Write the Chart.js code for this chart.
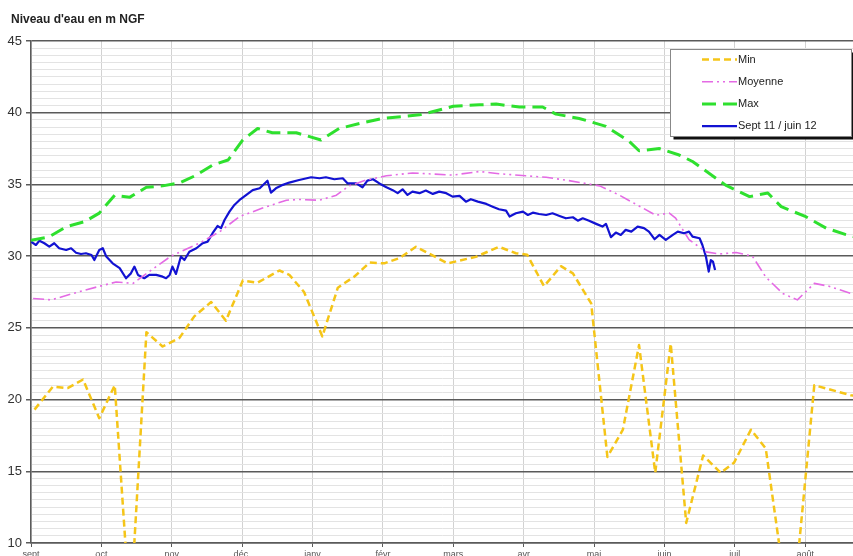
<!DOCTYPE html>
<html>
<head>
<meta charset="utf-8">
<script src="https://cdn.jsdelivr.net/npm/chart.js@4/dist/chart.umd.min.js"></script>
<style>
  html, body { margin: 0; padding: 0; background: #fff; }
  canvas { display: block; }
</style>
</head>
<body>
<canvas id="niveau" width="853" height="556"></canvas>
<script>
// Axe des x : mois depuis le 1er septembre (0 = sept, 1 = oct, ...)
const mois = ['sept', 'oct', 'nov', 'déc.', 'janv', 'févr', 'mars', 'avr', 'mai', 'juin', 'juil', 'août'];

// [mois, niveau en m NGF]
const ptsMin = [
    [0.05, 19.3], [0.31, 20.9], [0.52, 20.8], [0.74, 21.4], [0.97, 18.7], [1.19, 21.0], [1.41, 5.0],
    [1.64, 24.7], [1.87, 23.7], [2.11, 24.3], [2.32, 25.8], [2.56, 26.8], [2.77, 25.5], [3.01, 28.3],
    [3.22, 28.15], [3.53, 29.0], [3.67, 28.7], [3.88, 27.5], [4.14, 24.4], [4.36, 27.8], [4.60, 28.6],
    [4.81, 29.55], [5.02, 29.5], [5.23, 29.85], [5.47, 30.65], [5.92, 29.5], [6.32, 29.95], [6.65, 30.65],
    [6.89, 30.2], [7.05, 30.1], [7.29, 27.9], [7.53, 29.3], [7.70, 28.8], [7.96, 26.7], [8.19, 16.0],
    [8.41, 17.9], [8.64, 23.8], [8.87, 14.9], [9.09, 23.9], [9.31, 11.4], [9.55, 16.1], [9.80, 14.9],
    [9.99, 15.6], [10.23, 17.9], [10.44, 16.6], [10.80, 4.0], [11.13, 21.0], [11.65, 20.3], [11.90, 20.2]
];

const ptsMoyenne = [
    [0.03, 27.05], [0.29, 26.95], [0.74, 27.6], [1.21, 28.2], [1.45, 28.1], [1.73, 29.1], [1.99, 30.0],
    [2.39, 30.9], [2.68, 31.7], [2.96, 32.75], [3.29, 33.35], [3.63, 33.9], [3.81, 33.95], [4.10, 33.9],
    [4.34, 34.25], [4.52, 34.9], [4.76, 35.3], [5.05, 35.6], [5.42, 35.8], [5.99, 35.65], [6.37, 35.9],
    [6.65, 35.75], [7.03, 35.6], [7.32, 35.5], [7.60, 35.3], [8.08, 34.9], [8.36, 34.25], [8.64, 33.5],
    [8.88, 32.85], [9.07, 33.0], [9.16, 32.65], [9.35, 31.15], [9.59, 30.3], [9.78, 30.15], [10.02, 30.25],
    [10.25, 30.0], [10.44, 28.55], [10.68, 27.4], [10.89, 26.95], [11.13, 28.1], [11.34, 27.9], [11.65, 27.4],
    [11.90, 27.0]
];

const ptsMax = [
    [0.00, 31.1], [0.26, 31.35], [0.50, 32.05], [0.76, 32.4], [0.97, 33.0], [1.19, 34.25], [1.40, 34.1],
    [1.64, 34.8], [1.87, 34.9], [2.11, 35.1], [2.35, 35.65], [2.58, 36.35], [2.80, 36.7], [3.01, 38.1],
    [3.22, 38.9], [3.43, 38.6], [3.77, 38.6], [4.12, 38.1], [4.38, 38.9], [4.67, 39.25], [5.00, 39.6],
    [5.52, 39.85], [5.73, 40.1], [6.00, 40.45], [6.37, 40.55], [6.61, 40.6], [6.94, 40.4], [7.27, 40.4],
    [7.46, 39.9], [7.79, 39.6], [8.17, 39.05], [8.50, 38.0], [8.64, 37.35], [8.93, 37.5], [9.21, 37.05],
    [9.40, 36.6], [9.87, 34.95], [10.21, 34.15], [10.47, 34.4], [10.66, 33.45], [11.01, 32.75], [11.30, 31.95],
    [11.58, 31.5], [11.90, 31.1]
];

const ptsSaison = [
    [0.00, 31.0], [0.07, 30.78], [0.12, 31.08], [0.19, 30.9], [0.26, 30.66], [0.33, 30.9], [0.40, 30.55],
    [0.50, 30.43], [0.57, 30.55], [0.64, 30.24], [0.71, 30.15], [0.78, 30.2], [0.86, 30.08], [0.90, 29.73],
    [0.97, 30.43], [1.02, 30.55], [1.07, 29.97], [1.16, 29.5], [1.26, 29.16], [1.35, 28.46], [1.42, 28.8],
    [1.47, 29.27], [1.52, 28.69], [1.61, 28.46], [1.68, 28.69], [1.78, 28.69], [1.87, 28.57], [1.92, 28.46],
    [1.97, 28.69], [2.01, 29.27], [2.06, 28.76], [2.13, 29.97], [2.18, 29.73], [2.25, 30.31], [2.35, 30.55],
    [2.44, 30.9], [2.51, 31.01], [2.58, 31.6], [2.65, 32.1], [2.70, 31.95], [2.75, 32.52], [2.82, 33.1],
    [2.89, 33.57], [2.96, 33.9], [3.06, 34.27], [3.15, 34.6], [3.25, 34.73], [3.32, 35.07], [3.36, 35.26],
    [3.41, 34.43], [3.48, 34.73], [3.58, 34.97], [3.67, 35.13], [3.81, 35.31], [3.98, 35.5], [4.10, 35.43],
    [4.19, 35.5], [4.31, 35.36], [4.43, 35.43], [4.50, 35.07], [4.62, 35.07], [4.71, 34.8], [4.78, 35.27],
    [4.86, 35.36], [4.95, 35.07], [5.05, 34.8], [5.14, 34.6], [5.21, 34.39], [5.28, 34.66], [5.35, 34.27],
    [5.42, 34.5], [5.52, 34.39], [5.61, 34.57], [5.71, 34.34], [5.80, 34.5], [5.90, 34.39], [5.99, 34.15],
    [6.09, 34.2], [6.18, 33.8], [6.25, 33.97], [6.35, 33.8], [6.47, 33.64], [6.56, 33.45], [6.65, 33.27],
    [6.75, 33.17], [6.80, 32.76], [6.89, 32.99], [6.99, 33.1], [7.06, 32.87], [7.13, 33.03], [7.22, 32.94],
    [7.32, 32.87], [7.41, 32.99], [7.51, 32.8], [7.60, 32.64], [7.70, 32.71], [7.77, 32.47], [7.84, 32.64],
    [7.93, 32.47], [8.03, 32.25], [8.12, 32.06], [8.17, 32.25], [8.24, 31.32], [8.31, 31.64], [8.38, 31.48],
    [8.45, 31.83], [8.53, 31.71], [8.62, 32.06], [8.71, 31.95], [8.78, 31.71], [8.86, 31.18], [8.93, 31.48],
    [9.02, 31.13], [9.12, 31.48], [9.19, 31.71], [9.28, 31.6], [9.35, 31.71], [9.40, 31.36], [9.50, 31.25],
    [9.54, 30.78], [9.59, 29.97], [9.63, 28.92], [9.66, 29.73], [9.69, 29.62], [9.72, 29.04]
];

const TITRE = "Niveau d'eau en m NGF";

// ── Couleurs ──
const JAUNE = '#F5C518';
const ROSE  = '#E46AE4';
const VERT  = '#2EE02E';
const BLEU  = '#1212D2';
const MAJEUR = '#5a5a5a';

const versXY = (pts) => pts.map(([x, y]) => ({ x, y }));

Chart.defaults.font.family = "'Liberation Sans', Arial, sans-serif";
Chart.defaults.color = '#333';

// Titre en haut à gauche
const titrePlugin = {
    id: 'titre',
    afterDraw(chart) {
        const ctx = chart.ctx;
        ctx.save();
        ctx.font = "bold 12px 'Liberation Sans', Arial, sans-serif";
        ctx.fillStyle = '#222';
        ctx.textBaseline = 'alphabetic';
        ctx.fillText(TITRE, 11, 23);
        ctx.restore();
    }
};

// Légende encadrée façon Excel (ombre noire)
const legendePlugin = {
    id: 'legendeBoite',
    afterDraw(chart) {
        const ctx = chart.ctx;
        const bx = 670.5, by = 49.5, bw = 181, bh = 87;
        ctx.save();
        ctx.fillStyle = '#111';
        ctx.fillRect(bx + 3, by + 3, bw, bh);
        ctx.fillStyle = '#fff';
        ctx.fillRect(bx, by, bw, bh);
        ctx.strokeStyle = '#888';
        ctx.lineWidth = 1;
        ctx.strokeRect(bx, by, bw, bh);

        ctx.font = "11px 'Liberation Sans', Arial, sans-serif";
        ctx.textBaseline = 'middle';
        chart.data.datasets.forEach((ds, i) => {
            const y = 59.5 + i * 22.2;
            ctx.beginPath();
            ctx.setLineDash(ds.borderDash || []);
            ctx.lineWidth = ds.borderWidth;
            ctx.strokeStyle = ds.borderColor;
            ctx.moveTo(702, y);
            ctx.lineTo(737, y);
            ctx.stroke();
            ctx.setLineDash([]);
            ctx.fillStyle = '#222';
            ctx.fillText(ds.label, 738, y);
        });
        ctx.restore();
    }
};

new Chart(document.getElementById('niveau'), {
    type: 'line',
    data: {
        datasets: [
            { label: 'Min', data: versXY(ptsMin), borderColor: JAUNE, borderWidth: 2.5, borderDash: [7, 4] },
            { label: 'Moyenne', data: versXY(ptsMoyenne), borderColor: ROSE, borderWidth: 1.6, borderDash: [11, 4, 2, 4, 2, 4] },
            { label: 'Max', data: versXY(ptsMax), borderColor: VERT, borderWidth: 3, borderDash: [14, 7] },
            { label: 'Sept 11 / juin 12', data: versXY(ptsSaison), borderColor: BLEU, borderWidth: 2.2 }
        ]
    },
    options: {
        responsive: false,
        animation: false,
        layout: { padding: { top: 41, left: 0, right: 0, bottom: 0 } },
        elements: {
            point: { radius: 0, hoverRadius: 0 },
            line: { tension: 0, fill: false, borderJoinStyle: 'round' }
        },
        plugins: {
            legend: { display: false },
            title: { display: false },
            tooltip: { enabled: false }
        },
        scales: {
            x: {
                type: 'linear',
                min: 0,
                max: 11.68,
                afterBuildTicks: (s) => { s.ticks = mois.map((_, i) => ({ value: i })); },
                afterFit: (s) => { s.height = 13; },
                ticks: {
                    callback: (v) => mois[v],
                    font: { size: 9 },
                    color: '#555',
                    padding: 2,
                    maxRotation: 0,
                    autoSkip: false
                },
                grid: { color: '#d2d2d2', lineWidth: 1, tickLength: 4, tickColor: MAJEUR },
                border: { color: MAJEUR, width: 1.5 }
            },
            y: {
                min: 10,
                max: 45,
                afterFit: (s) => { s.width = 31; },
                ticks: {
                    stepSize: 0.5,
                    autoSkip: false,
                    padding: 4,
                    font: { size: 13 },
                    color: '#333',
                    callback: (v) => (v % 5 === 0 ? v : '')
                },
                grid: {
                    color: (c) => (c.tick.value % 5 === 0 ? MAJEUR : '#e3e3e3'),
                    lineWidth: (c) => (c.tick.value % 5 === 0 ? 1.5 : 1),
                    tickColor: (c) => (c.tick.value % 5 === 0 ? MAJEUR : 'rgba(0,0,0,0)'),
                    tickLength: 5
                },
                border: { color: MAJEUR, width: 1.5 }
            }
        }
    },
    plugins: [titrePlugin, legendePlugin]
});
</script>
</body>
</html>
